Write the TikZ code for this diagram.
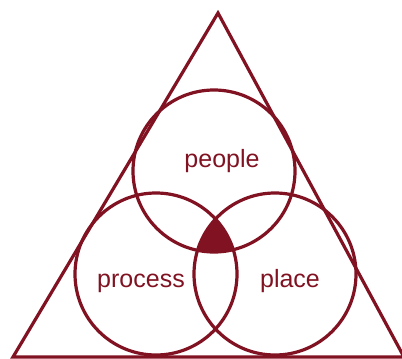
\documentclass[tikz,border=0pt]{standalone}
\usepackage{fontspec}
\setmainfont{Liberation Sans}
\usepackage{tikz}
\definecolor{venn}{RGB}{128,18,34}

\begin{document}
\begin{tikzpicture}[x=1pt,y=-1pt]
  \useasboundingbox (0,0) rectangle (402,359);
      \coordinate (apex) at (218,13);
      \coordinate (left) at (13,357);
      \coordinate (right) at (404,357);
          \draw[venn, line width=3.2, line join=miter] (apex) -- (left) -- (right) -- cycle;
   % shaded middle
   \begin{scope}
     \clip (214,171) circle (81);
     \clip (156,274) circle (81);
     \fill[venn] (275,274) circle (81);
   \end{scope}
      \node[draw=venn,circle, line width=3.2, minimum size=162, inner sep=0](cpeople)  at (214,171) {};
      \node[draw=venn,circle, line width=3.2, minimum size=162, inner sep=0](cprocess)  at (156,274) {};
      \node[draw=venn,circle, line width=3.2, minimum size=162, inner sep=0](cplace)  at (275,274) {};
  \node[text=venn, anchor=base, font=\fontsize{25}{30}\selectfont](people) at (222,167) {people};
  \node[text=venn, anchor=base, font=\fontsize{25}{30}\selectfont](process) at (141,287) {process};
  \node[text=venn, anchor=base, font=\fontsize{25}{30}\selectfont](place) at (290,287) {place};
\end{tikzpicture}
\end{document}
